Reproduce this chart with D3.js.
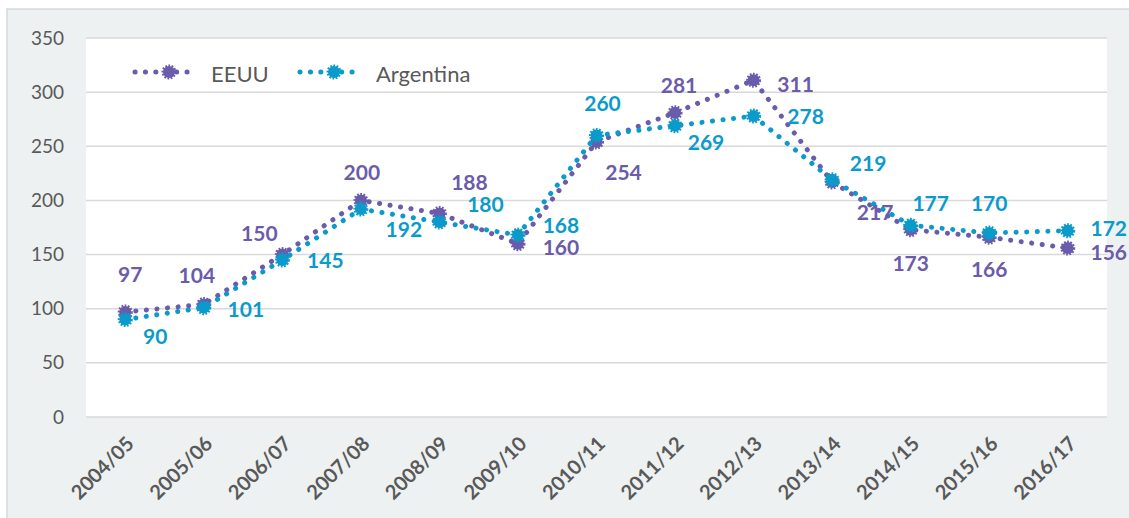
<!DOCTYPE html>
<html>
<head>
<meta charset="utf-8">
<script src="https://cdn.jsdelivr.net/npm/d3@7"></script>
<style>
  html, body { margin: 0; padding: 0; background: #fff; }
  svg { display: block; font-family: Lato, "Open Sans", sans-serif; }
</style>
</head>
<body>
<svg id="chart" width="1129" height="518"></svg>
<script>
// values
const seasons = ["2004/05", "2005/06", "2006/07", "2007/08", "2008/09", "2009/10", "2010/11",
                 "2011/12", "2012/13", "2013/14", "2014/15", "2015/16", "2016/17"];
const eeuu = [97, 104, 150, 200, 188, 160, 254, 281, 311, 217, 173, 166, 156];
const argentina = [90, 101, 145, 192, 180, 168, 260, 269, 278, 219, 177, 170, 172];
const yTicks = [0, 50, 100, 150, 200, 250, 300, 350];

// where each value label sits relative to its marker (dx, dy of text centre)
const eeuuLabelPos = [[5, -38], [-7, -30], [-23, -22], [1, -29], [30, -32], [43, 3], [27, 30],
                      [4, -28], [42, 3], [43, 29], [0, 33], [0, 31], [41, 3]];
const argLabelPos = [[30, 16], [42, 1], [43, 0], [43, 19], [46, -19], [43, -11], [6, -33],
                     [31, 16], [52, 0], [36, -17], [20, -23], [0, -30], [41, -3]];

const colors = { eeuu: "#6b5bab", arg: "#0b9bcb" };
const grey = "#595959";

const svg = d3.select("#chart");
const margin = { left: 86, right: 22, top: 38, bottom: 101 };
const W = 1129, H = 518;

// chart frame
svg.append("rect")
    .attr("x", 7).attr("y", 9)
    .attr("width", W).attr("height", H)
    .attr("fill", "#edf1f2")
    .attr("stroke", "#d6d9db").attr("stroke-width", 1.5);

const x = d3.scaleBand()
    .domain(seasons)
    .range([margin.left, W - margin.right]);
const y = d3.scaleLinear()
    .domain([0, 350])
    .range([H - margin.bottom, margin.top]);

svg.append("rect")
    .attr("x", margin.left).attr("y", margin.top)
    .attr("width", W - margin.right - margin.left)
    .attr("height", y(0) - margin.top)
    .attr("fill", "#fff");

// grid
svg.append("g")
    .selectAll("line")
    .data(yTicks)
    .join("line")
    .attr("x1", margin.left).attr("x2", W - margin.right)
    .attr("y1", d => y(d)).attr("y2", d => y(d))
    .attr("stroke", "#d9d9d9").attr("stroke-width", 1.5);

// y axis
const yAxis = svg.append("g")
    .attr("transform", `translate(${margin.left},0)`)
    .call(d3.axisLeft(y).tickValues(yTicks).tickSize(0).tickPadding(22));
yAxis.select(".domain").remove();
yAxis.selectAll("text")
    .attr("fill", grey)
    .style("font-size", "19px")
    .style("font-family", "Lato, 'Open Sans', sans-serif");

// x axis labels
const xAxis = svg.append("g")
    .attr("transform", `translate(0,${y(0)})`)
    .call(d3.axisBottom(x).tickSize(0).tickPadding(0));
xAxis.select(".domain").remove();
xAxis.selectAll("text")
    .attr("fill", grey)
    .attr("dy", 0)
    .attr("text-anchor", "end")
    .attr("transform", "translate(10,28) rotate(-45)")
    .style("font-size", "20px")
    .style("font-weight", "bold")
    .style("font-family", "Lato, 'Open Sans', sans-serif");

const cx = d => x(d) + x.bandwidth() / 2;

function drawMarker(g, px, py, color) {
  g.append("circle")
      .attr("cx", px).attr("cy", py).attr("r", 6)
      .attr("fill", color)
      .attr("stroke", color).attr("stroke-width", 3)
      .attr("stroke-dasharray", "1.6 1.4");
}

const series = [
  { name: "EEUU", values: eeuu, color: colors.eeuu, labels: eeuuLabelPos },
  { name: "Argentina", values: argentina, color: colors.arg, labels: argLabelPos }
];

const line = d3.line()
    .x((d, i) => cx(seasons[i]))
    .y(d => y(d));

series.forEach(s => {
  const g = svg.append("g");
  g.append("path")
      .datum(s.values)
      .attr("d", line)
      .attr("fill", "none")
      .attr("stroke", s.color)
      .attr("stroke-width", 5)
      .attr("stroke-linecap", "round")
      .attr("stroke-dasharray", "0.1 10.5");
  s.values.forEach((v, i) => drawMarker(g, cx(seasons[i]), y(v), s.color));
});

// value labels on top
series.forEach(s => {
  svg.append("g")
      .selectAll("text")
      .data(s.values)
      .join("text")
      .attr("x", (d, i) => cx(seasons[i]) + s.labels[i][0])
      .attr("y", (d, i) => y(d) + s.labels[i][1])
      .attr("text-anchor", "middle")
      .attr("dominant-baseline", "central")
      .attr("fill", s.color)
      .style("font-size", "21px")
      .style("font-weight", "bold")
      .text(d => d);
});

// legend
const legendItems = [
  { name: "EEUU", color: colors.eeuu, x0: 135 },
  { name: "Argentina", color: colors.arg, x0: 300 }
];
const legend = svg.append("g");
legendItems.forEach(item => {
  legend.append("line")
      .attr("x1", item.x0).attr("x2", item.x0 + 62)
      .attr("y1", 72).attr("y2", 72)
      .attr("stroke", item.color)
      .attr("stroke-width", 5)
      .attr("stroke-linecap", "round")
      .attr("stroke-dasharray", "0.1 10.3");
  drawMarker(legend, item.x0 + 34, 72, item.color);
  legend.append("text")
      .attr("x", item.x0 + 76).attr("y", 73)
      .attr("dominant-baseline", "central")
      .attr("fill", grey)
      .style("font-size", "22px")
      .text(item.name);
});
</script>
</body>
</html>
